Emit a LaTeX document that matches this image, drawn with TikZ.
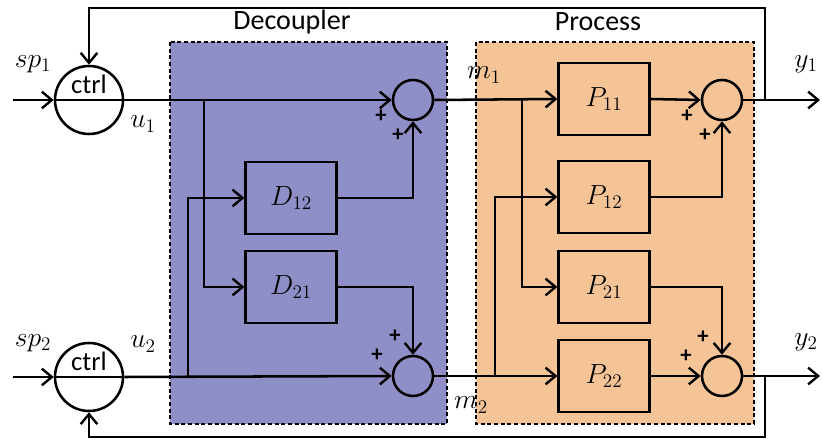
\documentclass[tikz,border=0pt]{standalone}
\usepackage{fontspec}
\setmainfont{Carlito}
\usetikzlibrary{arrows.meta,positioning,calc}
\definecolor{decfill}{RGB}{143,143,199}
\definecolor{procfill}{RGB}{244,195,150}

\begin{document}
\begin{tikzpicture}[x=0.75pt,y=-0.75pt, >={Straight Barb[length=7.5pt,width=12.5pt,line width=1.8pt]},
      line width=1.9pt,
      blk/.style={draw,line width=1.9pt,minimum width=68pt,minimum height=54pt,inner sep=0pt,font=\fontsize{20}{24}\selectfont},
      sumnode/.style={circle,draw,line width=1.9pt,minimum size=30pt,inner sep=0pt},
      ctrlnode/.style={circle,draw,line width=1.9pt,minimum size=51pt,inner sep=0pt},
      area/.style={draw,dashed,line width=1pt,dash pattern=on 3pt off 2pt},
      title/.style={font=\fontsize{21}{25}\selectfont},
      ctrltext/.style={font=\fontsize{20}{24}\selectfont,inner sep=0pt,anchor=base},
      sig/.style={font=\fontsize{21}{25}\selectfont,inner sep=0pt},
      pm/.style={font=\fontsize{17}{20}\selectfont\bfseries,inner sep=0pt}]
      \useasboundingbox (0,0) rectangle (822,441);
      % the two areas
      \draw[area,fill=decfill]  (170,42) rectangle (447,424);
      \draw[area,fill=procfill] (476,42) rectangle (754,424);
      \node[title] at (292,22) (tdec) {Decoupler};
      \node[title] at (598,22) (tproc) {Process};

      % controllers
      \node[ctrlnode] at (89,100) (c1) {};
      \node[ctrlnode] at (89,377) (c2) {};
      \node[ctrltext] at (89,94) (c1t) {ctrl};
      \node[ctrltext] at (89,371) (c2t) {ctrl};

      % decoupler
      \node[sumnode] at (413,100) (s1) {};
      \node[sumnode] at (413,376) (s2) {};
      \node[blk] at (291,198) (D12) {$D_{12}$};
      \node[blk] at (291,287) (D21) {$D_{21}$};

      % process
      \node[blk] at (604,99)  (P11) {$P_{11}$};
      \node[blk] at (604,197) (P12) {$P_{12}$};
      \node[blk] at (604,287) (P21) {$P_{21}$};
      \node[blk] at (604,376) (P22) {$P_{22}$};
      \node[sumnode] at (722,100) (s3) {};
      \node[sumnode] at (722,376) (s4) {};

      % branch points
      \coordinate (in1) at (13,100);
      \coordinate (in2) at (13,377);
      \coordinate (b1) at (204,100);
      \coordinate (b2) at (188,377);
      \coordinate (b3) at (522,100);
      \coordinate (b4) at (495,376);
      \coordinate (f1) at (765,100);
      \coordinate (f2) at (765,376);
      \coordinate (out1) at (820,100);
      \coordinate (out2) at (820,376);
      \coordinate (fbtop) at (427,8);
      \coordinate (fbbot) at (427,437);

      % signals
      \draw[->] (in1) -- (c1.west);
      \draw[->] (in2) -- (c2.west);
      \draw (c1.west) -- (c1.east);
      \draw (c2.west) -- (c2.east);
      \draw[->] (c1.east) -- (s1.west);
      \draw[->] (c2.east) -- (s2.west);
      \draw[->] (b1) |- (D21.west);
      \draw[->] (b2) |- (D12.west);
      \draw[->] (D12.east) -| (s1.south);
      \draw[->] (D21.east) -| (s2.north);
      \draw[->] (s1.east) -- (P11.west);
      \draw[->] (s2.east) -- (P22.west);
      \draw[->] (b3) |- (P21.west);
      \draw[->] (b4) |- (P12.west);
      \draw[->] (P11.east) -- (s3.west);
      \draw[->] (P22.east) -- (s4.west);
      \draw[->] (P12.east) -| (s3.south);
      \draw[->] (P21.east) -| (s4.north);
      \draw[->] (s3.east) -- (out1);
      \draw[->] (s4.east) -- (out2);
      \draw[->] (f1) |- (fbtop) -| (c1.north);
      \draw[->] (f2) |- (fbbot) -| (c2.south);

      % signal names
      \node[sig] at (33,64)   (lsp1) {$sp_1$};
      \node[sig] at (33,343)  (lsp2) {$sp_2$};
      \node[sig] at (143,124) (lu1) {$u_1$};
      \node[sig] at (143,344) (lu2) {$u_2$};
      \node[sig] at (484,75)  (lm1) {$m_1$};
      \node[sig] at (471,405) (lm2) {$m_2$};
      \node[sig] at (806,64)  (ly1) {$y_1$};
      \node[sig] at (806,342) (ly2) {$y_2$};

      % signs
      \node[pm] at (381,116) (p1) {+};
      \node[pm] at (398,135) (p2) {+};
      \node[pm] at (377,355) (p3) {+};
      \node[pm] at (395,336) (p4) {+};
      \node[pm] at (687,116) (p5) {+};
      \node[pm] at (705,135) (p6) {+};
      \node[pm] at (686,356) (p7) {+};
      \node[pm] at (703,337) (p8) {+};
\end{tikzpicture}
\end{document}
